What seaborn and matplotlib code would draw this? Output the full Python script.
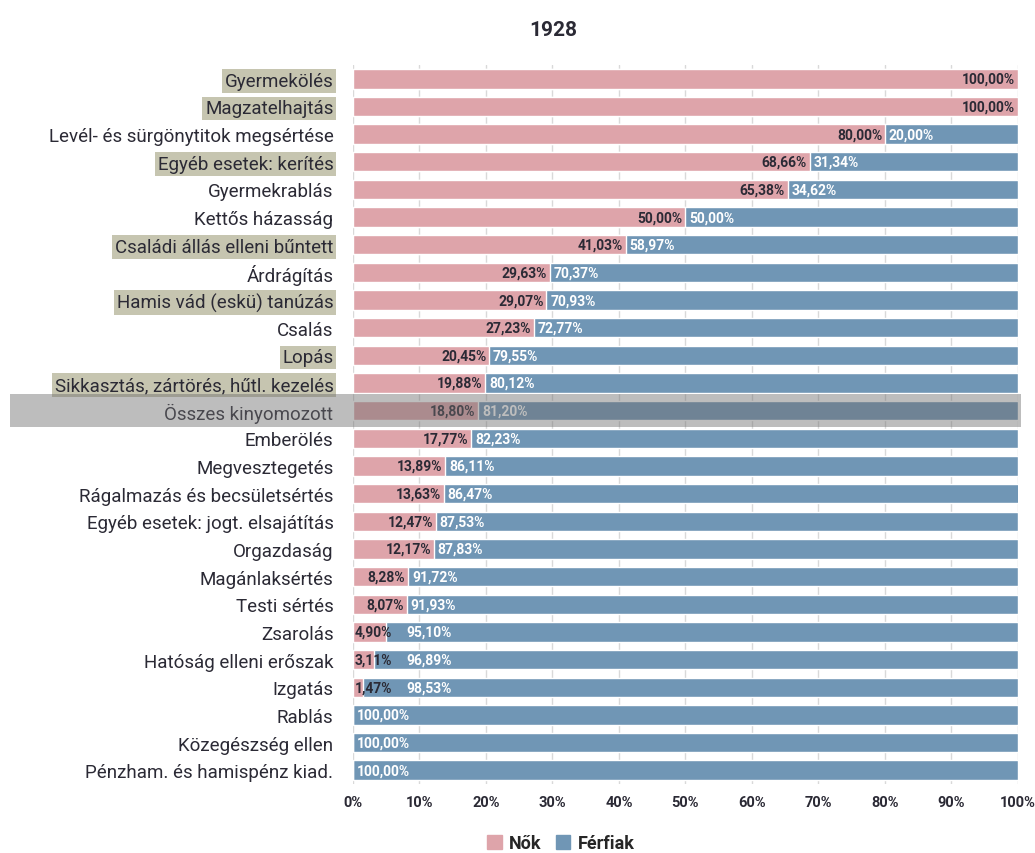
import matplotlib
matplotlib.use("Agg")
import matplotlib.pyplot as plt
import matplotlib.transforms as mtransforms
from matplotlib.patches import Rectangle
import seaborn as sns
import pandas as pd

categories = [
    "Gyermekölés", "Magzatelhajtás", "Levél- és sürgönytitok megsértése",
    "Egyéb esetek: kerítés", "Gyermekrablás", "Kettős házasság",
    "Családi állás elleni bűntett", "Árdrágítás", "Hamis vád (eskü) tanúzás",
    "Csalás", "Lopás", "Sikkasztás, zártörés, hűtl. kezelés",
    "Összes kinyomozott", "Emberölés", "Megvesztegetés",
    "Rágalmazás és becsületsértés", "Egyéb esetek: jogt. elsajátítás",
    "Orgazdaság", "Magánlaksértés", "Testi sértés", "Zsarolás",
    "Hatóság elleni erőszak", "Izgatás", "Rablás", "Közegészség ellen",
    "Pénzham. és hamispénz kiad.",
]
nok = [100.00, 100.00, 80.00, 68.66, 65.38, 50.00, 41.03, 29.63, 29.07, 27.23,
       20.45, 19.88, 18.80, 17.77, 13.89, 13.63, 12.47, 12.17, 8.28, 8.07,
       4.90, 3.11, 1.47, 0.00, 0.00, 0.00]
ferfiak = [0.00, 0.00, 20.00, 31.34, 34.62, 50.00, 58.97, 70.37, 70.93, 72.77,
           79.55, 80.12, 81.20, 82.23, 86.11, 86.47, 87.53, 87.83, 91.72, 91.93,
           95.10, 96.89, 98.53, 100.00, 100.00, 100.00]
highlighted = ["Gyermekölés", "Magzatelhajtás", "Egyéb esetek: kerítés",
               "Családi állás elleni bűntett", "Hamis vád (eskü) tanúzás",
               "Lopás", "Sikkasztás, zártörés, hűtl. kezelés"]
total_row = "Összes kinyomozott"

PINK = "#dea4aa"
BLUE = "#7096b5"
TXT = "#2b2a35"

df = pd.DataFrame({"cat": categories, "nok": nok, "ferfiak": ferfiak})
df["total"] = df["nok"] + df["ferfiak"]

sns.set_style("white")
plt.rcParams["font.family"] = ["Roboto", "DejaVu Sans"]

fig = plt.figure(figsize=(10.35, 8.54), dpi=100)
ax = fig.add_axes([0.341, 0.0808, 0.6425, 0.8419])

sns.barplot(data=df, y="cat", x="total", color=BLUE, orient="h", width=0.7,
            saturation=1, ax=ax, zorder=2)
sns.barplot(data=df, y="cat", x="nok", color=PINK, orient="h", width=0.7,
            saturation=1, ax=ax, zorder=3)

# labels: women's share at the end of the pink part, men's at the start of the blue
for i, row in df.iterrows():
    fx = row["nok"] + 0.6
    if row["nok"] > 0:
        txt = f"{row['nok']:.2f}%".replace(".", ",")
        if row["nok"] >= 7.5:
            ax.text(row["nok"] - 0.4, i, txt, ha="right", va="center",
                    fontsize=10, fontweight="bold", color=TXT, zorder=4)
        else:
            ax.text(0.3, i, txt, ha="left", va="center",
                    fontsize=10, fontweight="bold", color=TXT, zorder=4)
            fx = max(fx, 8.0)
    if row["ferfiak"] > 0:
        ax.text(fx, i, f"{row['ferfiak']:.2f}%".replace(".", ","),
                ha="left", va="center", fontsize=10, fontweight="bold",
                color="white", zorder=4)

ax.set_xlim(0, 100)
ax.set_ylim(len(categories) - 0.5, -0.5)
ax.set_xticks(range(0, 101, 10))
ax.set_xticklabels([f"{v}%" for v in range(0, 101, 10)], fontsize=10.5,
                   fontweight="bold", color=TXT)
ax.xaxis.grid(True, color="#d9d9d9", linewidth=1, zorder=0)
ax.set_axisbelow(True)
ax.set_xlabel("")
ax.set_ylabel("")
ax.tick_params(axis="y", length=0, pad=14, labelsize=13.5, labelcolor=TXT)
ax.tick_params(axis="x", length=0, pad=8)
for s in ax.spines.values():
    s.set_visible(False)

for lbl in ax.get_yticklabels():
    if lbl.get_text() in highlighted:
        lbl.set_bbox(dict(facecolor="#c6c5b0", edgecolor="none", pad=2.0))

# gray band over the total row
trans = mtransforms.blended_transform_factory(fig.transFigure, ax.transData)
idx = categories.index(total_row)
ax.add_patch(Rectangle((0.01, idx - 0.6), 0.976, 1.2, transform=trans,
                       facecolor="#6e6e6e", alpha=0.45, edgecolor="none",
                       zorder=10, clip_on=False))

fig.suptitle("1928", x=0.535, y=0.975, fontsize=15, fontweight="bold", color=TXT)

handles = [Rectangle((0, 0), 1, 1, color=PINK), Rectangle((0, 0), 1, 1, color=BLUE)]
fig.legend(handles, ["Nők", "Férfiak"], loc="lower center",
           bbox_to_anchor=(0.542, -0.018), ncol=2, frameon=False,
           handlelength=0.8, handleheight=0.8, handletextpad=0.4,
           columnspacing=0.8, prop={"weight": "bold", "size": 13})

fig.savefig("out.png", dpi=100)
